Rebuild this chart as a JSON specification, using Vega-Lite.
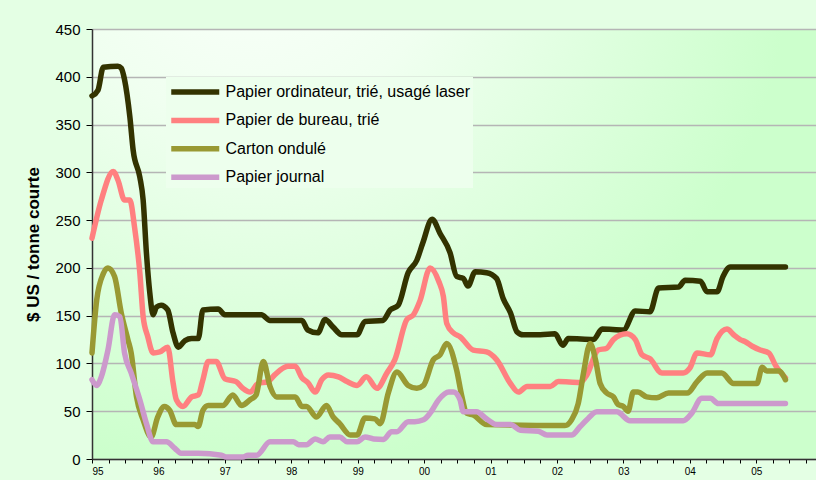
{
  "$schema": "https://vega.github.io/schema/vega-lite/v6.json",
  "width": 724,
  "height": 430,
  "autosize": {"type": "none"},
  "padding": {"left": 92, "top": 29, "right": 0, "bottom": 21},
  "background": "#e4ffe4",
  "config": {
    "view": {
      "stroke": null,
      "fill": {"gradient": "radial", "x1": 0.22, "y1": 0.07, "r1": 0, "x2": 0.22, "y2": 0.07, "r2": 0.88,
        "stops": [{"offset": 0, "color": "#fbfffb"}, {"offset": 0.3, "color": "#f0fff0"}, {"offset": 0.85, "color": "#ccffcc"}, {"offset": 1, "color": "#ccffcc"}]},
      "continuousWidth": 724,
      "continuousHeight": 430
    },
    "font": "Liberation Sans",
    "line": {"strokeWidth": 5.5, "strokeCap": "round", "strokeJoin": "round", "interpolate": "monotone"},
    "legend": {
      "orient": "none", "legendX": 74, "legendY": 48, "title": null,
      "symbolType": "M-0.975,0H3.825", "symbolSize": 400, "symbolStrokeWidth": 5.5,
      "labelFont": "Liberation Sans", "labelFontSize": 16, "labelColor": "#000000", "labelOffset": 31.5,
      "fillColor": "#edffed", "padding": 2, "rowPadding": 7.4, "labelLimit": 400
    }
  },
  "datasets": {
    "ordinateur": [
      {"t":1995.00,"v":380},{"t":1995.09,"v":386},{"t":1995.17,"v":410},{"t":1995.39,"v":411},{"t":1995.44,"v":409},{"t":1995.49,"v":397},{"t":1995.57,"v":358},{"t":1995.62,"v":323},{"t":1995.72,"v":295},{"t":1995.77,"v":271},{"t":1995.82,"v":215},{"t":1995.87,"v":174},{"t":1995.92,"v":151},{"t":1995.97,"v":159},{"t":1996.04,"v":161},{"t":1996.14,"v":156},{"t":1996.22,"v":132},{"t":1996.30,"v":117},{"t":1996.40,"v":124},{"t":1996.50,"v":126},{"t":1996.60,"v":126},{"t":1996.67,"v":156},{"t":1996.90,"v":157},{"t":1997.00,"v":151},{"t":1997.55,"v":151},{"t":1997.68,"v":145},{"t":1998.16,"v":145},{"t":1998.25,"v":135},{"t":1998.40,"v":132},{"t":1998.51,"v":146},{"t":1998.63,"v":138},{"t":1998.76,"v":130},{"t":1998.99,"v":130},{"t":1999.11,"v":144},{"t":1999.38,"v":145},{"t":1999.49,"v":156},{"t":1999.61,"v":161},{"t":1999.76,"v":195},{"t":1999.89,"v":208},{"t":1999.98,"v":226},{"t":2000.12,"v":251},{"t":2000.24,"v":236},{"t":2000.39,"v":216},{"t":2000.49,"v":191},{"t":2000.59,"v":189},{"t":2000.66,"v":181},{"t":2000.77,"v":196},{"t":2000.94,"v":195},{"t":2001.09,"v":189},{"t":2001.19,"v":168},{"t":2001.30,"v":153},{"t":2001.40,"v":133},{"t":2001.49,"v":130},{"t":2001.75,"v":130},{"t":2001.97,"v":131},{"t":2002.09,"v":119},{"t":2002.17,"v":126},{"t":2002.55,"v":125},{"t":2002.68,"v":136},{"t":2003.00,"v":135},{"t":2003.18,"v":155},{"t":2003.40,"v":154},{"t":2003.53,"v":179},{"t":2003.83,"v":180},{"t":2003.93,"v":187},{"t":2004.16,"v":186},{"t":2004.26,"v":175},{"t":2004.41,"v":175},{"t":2004.50,"v":191},{"t":2004.61,"v":201},{"t":2005.44,"v":201}
    ],
    "bureau": [
      {"t":1995.00,"v":231},{"t":1995.14,"v":271},{"t":1995.32,"v":301},{"t":1995.39,"v":292},{"t":1995.49,"v":271},{"t":1995.57,"v":271},{"t":1995.64,"v":243},{"t":1995.72,"v":195},{"t":1995.77,"v":149},{"t":1995.84,"v":128},{"t":1995.92,"v":111},{"t":1996.02,"v":112},{"t":1996.14,"v":117},{"t":1996.22,"v":80},{"t":1996.27,"v":62},{"t":1996.37,"v":55},{"t":1996.50,"v":65},{"t":1996.60,"v":67},{"t":1996.67,"v":83},{"t":1996.75,"v":102},{"t":1996.87,"v":102},{"t":1997.00,"v":84},{"t":1997.17,"v":81},{"t":1997.27,"v":74},{"t":1997.38,"v":70},{"t":1997.50,"v":79},{"t":1997.65,"v":81},{"t":1997.75,"v":88},{"t":1997.95,"v":97},{"t":1998.06,"v":97},{"t":1998.16,"v":85},{"t":1998.25,"v":80},{"t":1998.36,"v":70},{"t":1998.46,"v":83},{"t":1998.56,"v":88},{"t":1998.71,"v":86},{"t":1998.84,"v":81},{"t":1998.99,"v":77},{"t":1999.13,"v":86},{"t":1999.29,"v":74},{"t":1999.44,"v":90},{"t":1999.56,"v":104},{"t":1999.74,"v":146},{"t":1999.84,"v":151},{"t":1999.94,"v":166},{"t":2000.09,"v":200},{"t":2000.22,"v":186},{"t":2000.29,"v":170},{"t":2000.34,"v":142},{"t":2000.44,"v":132},{"t":2000.54,"v":128},{"t":2000.74,"v":114},{"t":2000.94,"v":112},{"t":2001.09,"v":104},{"t":2001.30,"v":79},{"t":2001.42,"v":70},{"t":2001.55,"v":76},{"t":2001.90,"v":76},{"t":2002.02,"v":81},{"t":2002.35,"v":80},{"t":2002.45,"v":88},{"t":2002.62,"v":114},{"t":2002.75,"v":116},{"t":2002.85,"v":125},{"t":2003.05,"v":131},{"t":2003.18,"v":125},{"t":2003.28,"v":109},{"t":2003.40,"v":105},{"t":2003.58,"v":90},{"t":2003.90,"v":90},{"t":2004.00,"v":95},{"t":2004.11,"v":111},{"t":2004.31,"v":109},{"t":2004.41,"v":126},{"t":2004.56,"v":136},{"t":2004.66,"v":130},{"t":2004.76,"v":125},{"t":2004.83,"v":123},{"t":2004.94,"v":118},{"t":2005.06,"v":114},{"t":2005.19,"v":111},{"t":2005.29,"v":98},{"t":2005.44,"v":85}
    ],
    "carton": [
      {"t":1995.00,"v":111},{"t":1995.07,"v":166},{"t":1995.17,"v":194},{"t":1995.24,"v":200},{"t":1995.34,"v":191},{"t":1995.44,"v":153},{"t":1995.54,"v":125},{"t":1995.59,"v":111},{"t":1995.67,"v":65},{"t":1995.77,"v":41},{"t":1995.89,"v":23},{"t":1995.99,"v":44},{"t":1996.09,"v":55},{"t":1996.17,"v":51},{"t":1996.27,"v":36},{"t":1996.55,"v":36},{"t":1996.60,"v":34},{"t":1996.67,"v":51},{"t":1996.75,"v":56},{"t":1996.97,"v":56},{"t":1997.12,"v":67},{"t":1997.25,"v":56},{"t":1997.38,"v":62},{"t":1997.47,"v":67},{"t":1997.58,"v":102},{"t":1997.68,"v":76},{"t":1997.78,"v":65},{"t":1998.06,"v":65},{"t":1998.16,"v":55},{"t":1998.23,"v":55},{"t":1998.38,"v":44},{"t":1998.53,"v":56},{"t":1998.63,"v":44},{"t":1998.73,"v":37},{"t":1998.89,"v":25},{"t":1998.99,"v":25},{"t":1999.11,"v":43},{"t":1999.26,"v":42},{"t":1999.34,"v":37},{"t":1999.46,"v":69},{"t":1999.59,"v":91},{"t":1999.76,"v":77},{"t":1999.89,"v":74},{"t":1999.99,"v":77},{"t":2000.14,"v":104},{"t":2000.24,"v":109},{"t":2000.34,"v":121},{"t":2000.49,"v":93},{"t":2000.57,"v":65},{"t":2000.64,"v":48},{"t":2000.74,"v":46},{"t":2000.94,"v":36},{"t":2002.12,"v":35},{"t":2002.22,"v":41},{"t":2002.32,"v":58},{"t":2002.40,"v":90},{"t":2002.50,"v":121},{"t":2002.58,"v":104},{"t":2002.65,"v":79},{"t":2002.75,"v":69},{"t":2002.85,"v":65},{"t":2002.92,"v":57},{"t":2003.00,"v":55},{"t":2003.07,"v":50},{"t":2003.15,"v":70},{"t":2003.22,"v":70},{"t":2003.35,"v":65},{"t":2003.50,"v":64},{"t":2003.68,"v":69},{"t":2003.96,"v":69},{"t":2004.11,"v":81},{"t":2004.26,"v":90},{"t":2004.48,"v":90},{"t":2004.66,"v":79},{"t":2005.01,"v":79},{"t":2005.09,"v":96},{"t":2005.16,"v":92},{"t":2005.34,"v":92},{"t":2005.44,"v":83}
    ],
    "journal": [
      {"t":1995.00,"v":83},{"t":1995.07,"v":77},{"t":1995.14,"v":86},{"t":1995.24,"v":114},{"t":1995.34,"v":151},{"t":1995.42,"v":149},{"t":1995.49,"v":111},{"t":1995.59,"v":90},{"t":1995.72,"v":62},{"t":1995.82,"v":37},{"t":1995.92,"v":18},{"t":1996.12,"v":18},{"t":1996.25,"v":11},{"t":1996.34,"v":6},{"t":1996.60,"v":6},{"t":1996.95,"v":4},{"t":1997.02,"v":2},{"t":1997.27,"v":2},{"t":1997.35,"v":4},{"t":1997.48,"v":4},{"t":1997.68,"v":18},{"t":1998.03,"v":18},{"t":1998.11,"v":15},{"t":1998.23,"v":15},{"t":1998.36,"v":21},{"t":1998.48,"v":18},{"t":1998.58,"v":23},{"t":1998.73,"v":23},{"t":1998.84,"v":18},{"t":1998.99,"v":18},{"t":1999.11,"v":23},{"t":1999.24,"v":21},{"t":1999.39,"v":20.5},{"t":1999.51,"v":28.6},{"t":1999.59,"v":28.6},{"t":1999.76,"v":39},{"t":1999.86,"v":39},{"t":1999.99,"v":41},{"t":2000.09,"v":48},{"t":2000.22,"v":62},{"t":2000.37,"v":70},{"t":2000.44,"v":70},{"t":2000.54,"v":62},{"t":2000.59,"v":49.5},{"t":2000.79,"v":49.5},{"t":2000.94,"v":42},{"t":2001.09,"v":36},{"t":2001.30,"v":36},{"t":2001.45,"v":30},{"t":2001.72,"v":29},{"t":2001.85,"v":25},{"t":2002.22,"v":25},{"t":2002.35,"v":34},{"t":2002.45,"v":41},{"t":2002.60,"v":49.5},{"t":2002.90,"v":49.5},{"t":2003.10,"v":40},{"t":2003.90,"v":40},{"t":2004.03,"v":48},{"t":2004.18,"v":63.5},{"t":2004.31,"v":63.5},{"t":2004.43,"v":58},{"t":2005.44,"v":58}
    ]
  },
  "encoding": {
    "x": {
      "field": "t", "type": "quantitative",
      "scale": {"domain": [1995, 2005.9], "nice": false, "zero": false},
      "axis": {
        "title": null, "grid": false,
        "values": [1995,1995.25,1995.5,1995.75,1996,1996.25,1996.5,1996.75,1997,1997.25,1997.5,1997.75,1998,1998.25,1998.5,1998.75,1999,1999.25,1999.5,1999.75,2000,2000.25,2000.5,2000.75,2001,2001.25,2001.5,2001.75,2002,2002.25,2002.5,2002.75,2003,2003.25,2003.5,2003.75,2004,2004.25,2004.5,2004.75,2005,2005.25,2005.5,2005.75],
        "labelExpr": "datum.value % 1 === 0 ? slice(toString(datum.value), 2) : ''",
        "labelOverlap": false, "labelFontSize": 10, "labelColor": "#000000", "labelPadding": 3,
        "domainColor": "#333333", "domainWidth": 1.5, "tickColor": "#000000", "tickWidth": 1, "tickSize": 4
      }
    },
    "y": {
      "field": "v", "type": "quantitative",
      "scale": {"domain": [0, 450], "nice": false},
      "axis": {
        "title": "$ US / tonne courte", "titleFontSize": 17, "titleFontWeight": "bold", "titleColor": "#000000", "titlePadding": 12,
        "values": [0,50,100,150,200,250,300,350,400,450],
        "labelFontSize": 15, "labelColor": "#000000", "labelPadding": 6,
        "grid": true, "gridColor": "#b5b5b5", "gridWidth": 1.5,
        "domainColor": "#333333", "domainWidth": 1.5, "tickColor": "#000000", "tickSize": 6
      }
    }
  },
  "layer": [
    {"data": {"name": "ordinateur"}, "mark": "line",
     "encoding": {"color": {"datum": "Papier ordinateur, trié, usagé laser", "type": "nominal",
       "scale": {"domain": ["Papier ordinateur, trié, usagé laser", "Papier de bureau, trié", "Carton ondulé", "Papier journal"],
                 "range": ["#333300", "#ff8080", "#999933", "#cc99cc"]}}}},
    {"data": {"name": "bureau"}, "mark": "line",
     "encoding": {"color": {"datum": "Papier de bureau, trié", "type": "nominal"}}},
    {"data": {"name": "carton"}, "mark": "line",
     "encoding": {"color": {"datum": "Carton ondulé", "type": "nominal"}}},
    {"data": {"name": "journal"}, "mark": "line",
     "encoding": {"color": {"datum": "Papier journal", "type": "nominal"}}}
  ]
}
